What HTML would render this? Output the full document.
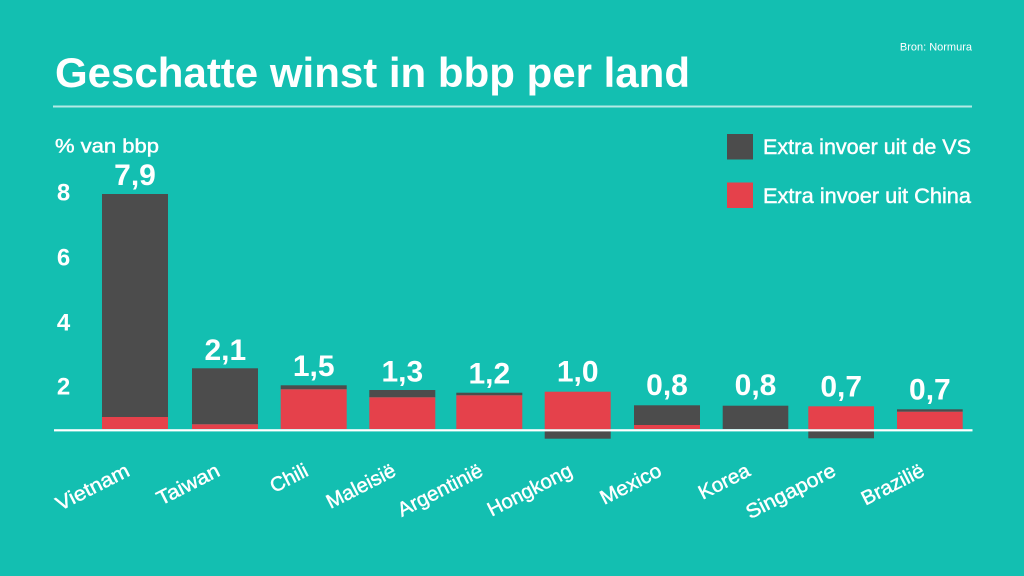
<!DOCTYPE html>
<html>
<head>
<meta charset="utf-8">
<style>
  html, body { margin:0; padding:0; background:#13bfb1; }
  svg { display:block; }
  text { font-family: "Liberation Sans", "DejaVu Sans", sans-serif; fill:#ffffff; }
  .med { stroke:#ffffff; stroke-width:0.45; }
</style>
</head>
<body>
<svg width="1024" height="576" viewBox="0 0 1024 576" xmlns="http://www.w3.org/2000/svg">
  <rect x="0" y="0" width="1024" height="576" fill="#13bfb1"/>

  <!-- Title -->
  <text x="55" y="87" font-size="42" font-weight="bold" textLength="635" lengthAdjust="spacingAndGlyphs">Geschatte winst in bbp per land</text>
  <text x="972" y="50.5" font-size="11" text-anchor="end">Bron: Normura</text>
  <rect x="53" y="105.5" width="919" height="2" fill="#b3ebe5"/>

  <!-- Axis label -->
  <text class="med" x="55" y="152.5" font-size="19" textLength="104" lengthAdjust="spacingAndGlyphs">% van bbp</text>

  <!-- Y ticks -->
  <text x="63.5" y="200.7" font-size="24" font-weight="bold" text-anchor="middle">8</text>
  <text x="63.5" y="265.7" font-size="24" font-weight="bold" text-anchor="middle">6</text>
  <text x="63.5" y="330.7" font-size="24" font-weight="bold" text-anchor="middle">4</text>
  <text x="63.5" y="394.5" font-size="24" font-weight="bold" text-anchor="middle">2</text>

  <!-- Legend -->
  <rect x="727" y="134" width="26" height="25.5" fill="#4c4c4c"/>
  <text class="med" x="763" y="154" font-size="21" textLength="208" lengthAdjust="spacingAndGlyphs">Extra invoer uit de VS</text>
  <rect x="727" y="182.5" width="26" height="25.5" fill="#e5414b"/>
  <text class="med" x="763" y="203" font-size="21" textLength="208" lengthAdjust="spacingAndGlyphs">Extra invoer uit China</text>

  <!-- Bars -->
  <rect x="102" y="194" width="66" height="223" fill="#4c4c4c"/>
  <rect x="102" y="417" width="66" height="12" fill="#e5414b"/>
  <rect x="192" y="368.3" width="66" height="56" fill="#4c4c4c"/>
  <rect x="192" y="424.3" width="66" height="4.7" fill="#e5414b"/>
  <rect x="280.7" y="385.3" width="66" height="4" fill="#4c4c4c"/>
  <rect x="280.7" y="389.3" width="66" height="39.7" fill="#e5414b"/>
  <rect x="369.3" y="390" width="66" height="7.3" fill="#4c4c4c"/>
  <rect x="369.3" y="397.3" width="66" height="31.7" fill="#e5414b"/>
  <rect x="456.3" y="392.7" width="66" height="2.6" fill="#4c4c4c"/>
  <rect x="456.3" y="395.3" width="66" height="33.7" fill="#e5414b"/>
  <rect x="544.7" y="391.7" width="66" height="37.3" fill="#e5414b"/>
  <rect x="544.7" y="429" width="66" height="9.7" fill="#4c4c4c"/>
  <rect x="634" y="405.3" width="66" height="19.7" fill="#4c4c4c"/>
  <rect x="634" y="425" width="66" height="4" fill="#e5414b"/>
  <rect x="722.7" y="405.7" width="65.6" height="23.3" fill="#4c4c4c"/>
  <rect x="808.3" y="406.3" width="65.7" height="22.7" fill="#e5414b"/>
  <rect x="808.3" y="429" width="65.7" height="9.3" fill="#4c4c4c"/>
  <rect x="897" y="409.3" width="65.7" height="2.4" fill="#4c4c4c"/>
  <rect x="897" y="411.7" width="65.7" height="17.3" fill="#e5414b"/>

  <!-- Baseline -->
  <rect x="54" y="429.2" width="918.5" height="2.2" fill="#ffffff"/>

  <!-- Value labels -->
  <g font-size="30" font-weight="bold" text-anchor="middle">
    <text x="135" y="185">7,9</text>
    <text x="225.3" y="360">2,1</text>
    <text x="313.7" y="376">1,5</text>
    <text x="402.3" y="381.7">1,3</text>
    <text x="489.3" y="383.3">1,2</text>
    <text x="577.7" y="381.7">1,0</text>
    <text x="667" y="395">0,8</text>
    <text x="755.5" y="395">0,8</text>
    <text x="841.2" y="396.7">0,7</text>
    <text x="929.9" y="399.3">0,7</text>
  </g>

  <!-- X labels -->
  <g font-size="20" text-anchor="end" class="med">
    <text transform="translate(131,475) rotate(-27)" textLength="79.5" lengthAdjust="spacingAndGlyphs">Vietnam</text>
    <text transform="translate(221.3,475) rotate(-27)" textLength="67.8" lengthAdjust="spacingAndGlyphs">Taiwan</text>
    <text transform="translate(309.7,475) rotate(-27)" textLength="39.8" lengthAdjust="spacingAndGlyphs">Chili</text>
    <text transform="translate(397.3,475) rotate(-27)" textLength="75" lengthAdjust="spacingAndGlyphs">Maleisië</text>
    <text transform="translate(484.3,475) rotate(-27)" textLength="92.6" lengthAdjust="spacingAndGlyphs">Argentinië</text>
    <text transform="translate(573.7,475) rotate(-27)" textLength="92.1" lengthAdjust="spacingAndGlyphs">Hongkong</text>
    <text transform="translate(663,475) rotate(-27)" textLength="66" lengthAdjust="spacingAndGlyphs">Mexico</text>
    <text transform="translate(751.5,475) rotate(-27)" textLength="54.8" lengthAdjust="spacingAndGlyphs">Korea</text>
    <text transform="translate(837.2,475) rotate(-27)" textLength="97.8" lengthAdjust="spacingAndGlyphs">Singapore</text>
    <text transform="translate(925.9,475) rotate(-27)" textLength="67.8" lengthAdjust="spacingAndGlyphs">Brazilië</text>
  </g>
</svg>
</body>
</html>
